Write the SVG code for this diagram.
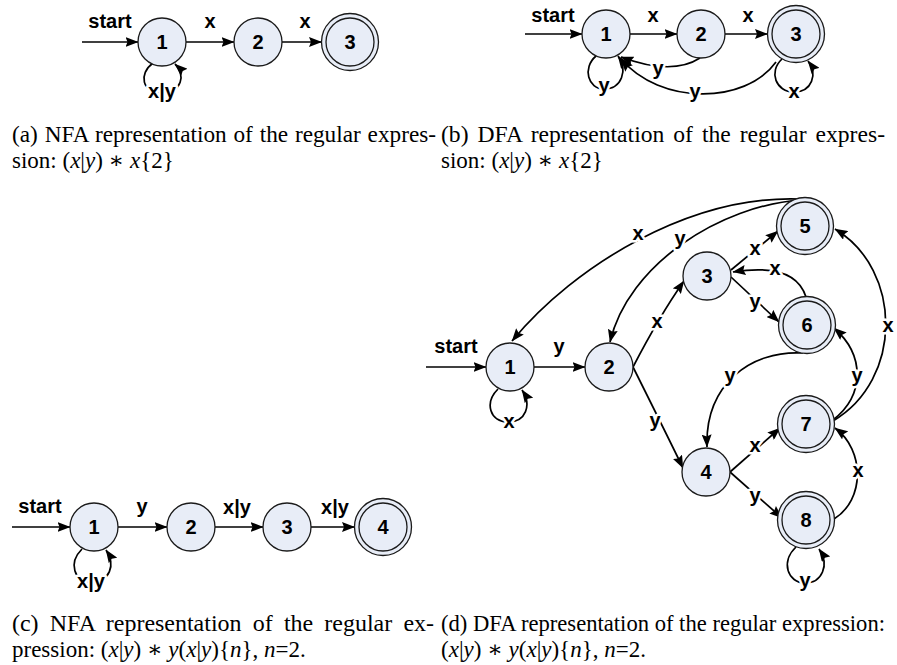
<svg xmlns="http://www.w3.org/2000/svg" width="897" height="665" viewBox="0 0 897 665">
  <defs>
    <marker id="ah" markerUnits="userSpaceOnUse" viewBox="0 0 13 10" refX="12.5" refY="5" markerWidth="13" markerHeight="10" orient="auto">
      <path d="M0,0 L13,5 L0,10 L2,5 z" fill="#000"/>
    </marker>
    <style>
      .node circle { fill: #e8edf7; stroke: #1a1a1a; stroke-width: 1.3; }
      .node text, .lbl { font-family: "Liberation Sans", Arial, sans-serif; font-weight: bold; font-size: 20px; text-anchor: middle; fill: #000; }
      .edges path { fill: none; stroke: #000; stroke-width: 1.7; marker-end: url(#ah); }
      .lbl { stroke: #fff; stroke-width: 5; paint-order: stroke; stroke-linejoin: round; }
      .cap { font-family: "Liberation Serif", "Times New Roman", "DejaVu Serif", serif; font-size: 23px; fill: #000; }
      .cap .m { font-style: italic; }
    </style>
  </defs>
  <rect width="897" height="665" fill="#fff"/>

  <!-- (a) NFA for (x|y)*x{2} -->
  <g id="fig-a">
    <g class="edges">
      <path d="M82,42 H138"/>
      <path d="M186,42 H234"/>
      <path d="M282,42 H321.5"/>
      <path d="M153,63 C138,74 142,93 162,93 C182,93 186,74 175,64"/>
    </g>
    <text class="lbl" x="110" y="28">start</text>
    <text class="lbl" x="210" y="28">x</text>
    <text class="lbl" x="305" y="28">x</text>
    <text class="lbl" x="162" y="98">x|y</text>
    <g id="a1" class="node"><circle cx="162" cy="42" r="24"/><text x="162" y="49">1</text></g>
    <g id="a2" class="node"><circle cx="258" cy="42" r="24"/><text x="258" y="49">2</text></g>
    <g id="a3" class="node"><circle cx="350" cy="42" r="28.5"/><circle cx="350" cy="42" r="24"/><text x="350" y="49">3</text></g>
  </g>

  <!-- (b) DFA for (x|y)*x{2} -->
  <g id="fig-b">
    <g class="edges">
      <path d="M525,34 H582"/>
      <path d="M630,34 H677"/>
      <path d="M725,34 H767.5"/>
      <path d="M700,58 Q672,76 621,57"/>
      <path d="M776,62 C745,105 660,105 621,59"/>
      <path d="M596,56 C582,68 588,89 604,89 C622,89 628,70 618,56"/>
      <path d="M782,59 C768,72 776,92 794,92 C812,92 818,74 808,61"/>
    </g>
    <text class="lbl" x="553" y="22">start</text>
    <text class="lbl" x="653" y="22">x</text>
    <text class="lbl" x="748" y="22">x</text>
    <text class="lbl" x="658" y="75">y</text>
    <text class="lbl" x="695" y="98">y</text>
    <text class="lbl" x="604" y="92">y</text>
    <text class="lbl" x="794" y="98">x</text>
    <g id="b1" class="node"><circle cx="606" cy="34" r="24"/><text x="606" y="41">1</text></g>
    <g id="b2" class="node"><circle cx="701" cy="34" r="24"/><text x="701" y="41">2</text></g>
    <g id="b3" class="node"><circle cx="796" cy="34" r="28.5"/><circle cx="796" cy="34" r="24"/><text x="796" y="41">3</text></g>
  </g>

  <!-- (c) NFA for (x|y)*y(x|y){n}, n=2 -->
  <g id="fig-c">
    <g class="edges">
      <path d="M12,527 H70"/>
      <path d="M118,527 H167"/>
      <path d="M215,527 H263"/>
      <path d="M311,527 H354.5"/>
      <path d="M82,549 C68,563 74,582 91,582 C110,582 116,565 106,550"/>
    </g>
    <text class="lbl" x="40" y="513">start</text>
    <text class="lbl" x="142" y="513">y</text>
    <text class="lbl" x="237" y="514">x|y</text>
    <text class="lbl" x="335" y="514">x|y</text>
    <text class="lbl" x="91" y="588">x|y</text>
    <g id="c1" class="node"><circle cx="94" cy="527" r="24"/><text x="94" y="534">1</text></g>
    <g id="c2" class="node"><circle cx="191" cy="527" r="24"/><text x="191" y="534">2</text></g>
    <g id="c3" class="node"><circle cx="287" cy="527" r="24"/><text x="287" y="534">3</text></g>
    <g id="c4" class="node"><circle cx="383" cy="527" r="28.5"/><circle cx="383" cy="527" r="24"/><text x="383" y="534">4</text></g>
  </g>

  <!-- (d) DFA for (x|y)*y(x|y){n}, n=2 -->
  <g id="fig-d">
    <g class="edges">
      <path d="M426,367 H486"/>
      <path d="M534,367 H585"/>
      <path d="M498,389 C484,403 490,422 508,422 C526,422 532,405 522,390"/>
      <path d="M633,367 Q660,315 684,281"/>
      <path d="M633,367 Q662,425 683,468"/>
      <path d="M731,277 L779,322"/>
      <path d="M806,297 Q795,262 733,272"/>
      <path d="M731,270 L778,231"/>
      <path d="M800,199 C690,195 575,265 512,341"/>
      <path d="M802,200 C720,205 628,265 610,342"/>
      <path d="M803,353 C750,350 705,385 707,447"/>
      <path d="M833,421 C903,380 903,270 835,229"/>
      <path d="M833,420 C865,395 865,355 834,328"/>
      <path d="M834,519 C865,500 865,450 835,428"/>
      <path d="M730,472 L780,428"/>
      <path d="M730,472 L782,518"/>
      <path d="M796,547 C780,562 788,583 805,583 C822,583 830,565 819,549"/>
    </g>
    <text class="lbl" x="456" y="353">start</text>
    <text class="lbl" x="559" y="353">y</text>
    <text class="lbl" x="509" y="428">x</text>
    <text class="lbl" x="657" y="328">x</text>
    <text class="lbl" x="655" y="427">y</text>
    <text class="lbl" x="755" y="308">y</text>
    <text class="lbl" x="775" y="275">x</text>
    <text class="lbl" x="755" y="255">x</text>
    <text class="lbl" x="638" y="240">x</text>
    <text class="lbl" x="680" y="245">y</text>
    <text class="lbl" x="730" y="382">y</text>
    <text class="lbl" x="888" y="332">x</text>
    <text class="lbl" x="857" y="382">y</text>
    <text class="lbl" x="858" y="477">x</text>
    <text class="lbl" x="755" y="452">x</text>
    <text class="lbl" x="755" y="502">y</text>
    <text class="lbl" x="805" y="587">y</text>
    <g id="d1" class="node"><circle cx="510" cy="367" r="24"/><text x="510" y="374">1</text></g>
    <g id="d2" class="node"><circle cx="609" cy="367" r="24"/><text x="609" y="374">2</text></g>
    <g id="d3" class="node"><circle cx="707" cy="276" r="24"/><text x="707" y="283">3</text></g>
    <g id="d4" class="node"><circle cx="706" cy="472" r="24"/><text x="706" y="479">4</text></g>
    <g id="d5" class="node"><circle cx="805" cy="226" r="28.5"/><circle cx="805" cy="226" r="24"/><text x="805" y="233">5</text></g>
    <g id="d6" class="node"><circle cx="807" cy="325" r="28.5"/><circle cx="807" cy="325" r="24"/><text x="807" y="332">6</text></g>
    <g id="d7" class="node"><circle cx="806" cy="424" r="28.5"/><circle cx="806" cy="424" r="24"/><text x="806" y="431">7</text></g>
    <g id="d8" class="node"><circle cx="806" cy="520" r="28.5"/><circle cx="806" cy="520" r="24"/><text x="806" y="527">8</text></g>
  </g>

  <!-- captions -->
  <g id="captions" class="cap">
    <text x="12" y="142" word-spacing="1" textLength="424" lengthAdjust="spacingAndGlyphs">(a) NFA representation of the regular expres-</text>
    <text x="12" y="168">sion: (<tspan class="m">x</tspan>|<tspan class="m">y</tspan>) ∗ <tspan class="m">x</tspan>{2}</text>
    <text x="441" y="142" word-spacing="3" textLength="444" lengthAdjust="spacingAndGlyphs">(b) DFA representation of the regular expres-</text>
    <text x="441" y="168">sion: (<tspan class="m">x</tspan>|<tspan class="m">y</tspan>) ∗ <tspan class="m">x</tspan>{2}</text>
    <text x="12" y="631" word-spacing="5" textLength="422" lengthAdjust="spacingAndGlyphs">(c) NFA representation of the regular ex-</text>
    <text x="12" y="657">pression: (<tspan class="m">x</tspan>|<tspan class="m">y</tspan>) ∗ <tspan class="m">y</tspan>(<tspan class="m">x</tspan>|<tspan class="m">y</tspan>){<tspan class="m">n</tspan>}, <tspan class="m">n</tspan>=2.</text>
    <text x="441" y="631" textLength="444" lengthAdjust="spacingAndGlyphs">(d) DFA representation of the regular expression:</text>
    <text x="441" y="657">(<tspan class="m">x</tspan>|<tspan class="m">y</tspan>) ∗ <tspan class="m">y</tspan>(<tspan class="m">x</tspan>|<tspan class="m">y</tspan>){<tspan class="m">n</tspan>}, <tspan class="m">n</tspan>=2.</text>
  </g>
</svg>
